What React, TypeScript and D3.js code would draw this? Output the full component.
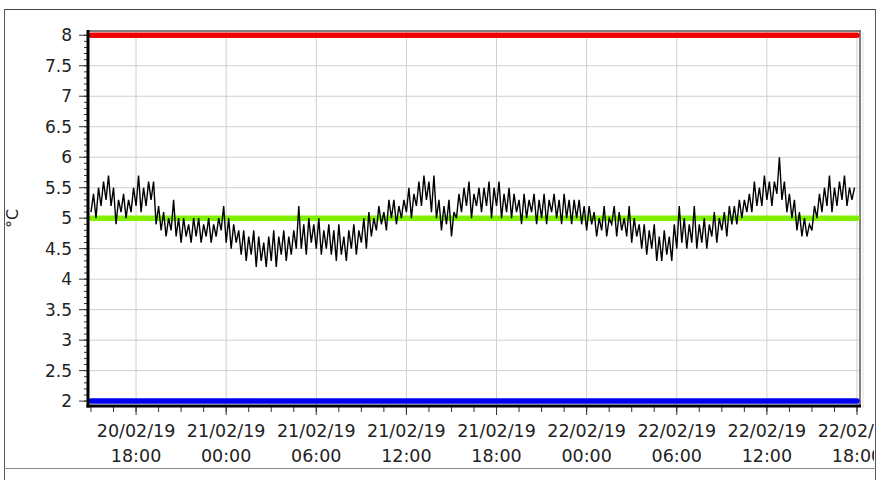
import React from 'react';
import * as d3 from 'd3';

// temperature readings, one every 10 minutes from 20/02/19 15:00 (one row per hour)
const tempValues: number[] = [
  5.1, 5.4, 5.0, 5.5, 5.2, 5.6,
  5.3, 5.7, 5.2, 5.5, 4.9, 5.3,
  5.1, 5.4, 5.0, 5.3, 5.1, 5.5,
  5.2, 5.7, 5.1, 5.5, 5.2, 5.6,
  5.3, 5.6, 4.9, 5.2, 4.8, 5.1,
  4.7, 5.0, 4.8, 5.3, 4.7, 5.0,
  4.6, 5.0, 4.7, 4.9, 4.6, 5.0,
  4.7, 5.0, 4.6, 4.9, 4.7, 5.0,
  4.6, 4.9, 4.7, 5.0, 4.8, 5.2,
  4.6, 5.0, 4.5, 4.9, 4.6, 4.8,
  4.4, 4.8, 4.3, 4.7, 4.4, 4.8,
  4.2, 4.7, 4.3, 4.6, 4.2, 4.7,
  4.3, 4.8, 4.2, 4.7, 4.4, 4.8,
  4.3, 4.7, 4.4, 4.8, 4.5, 5.2,
  4.5, 4.9, 4.4, 5.0, 4.6, 4.9,
  4.5, 5.0, 4.4, 4.8, 4.5, 4.9,
  4.4, 4.8, 4.3, 4.9, 4.4, 4.7,
  4.3, 4.8, 4.5, 4.9, 4.4, 4.8,
  4.6, 5.0, 4.5, 5.1, 4.7, 5.0,
  4.8, 5.2, 4.9, 5.1, 4.8, 5.3,
  5.0, 5.3, 4.9, 5.2, 5.0, 5.3,
  5.1, 5.5, 5.0, 5.4, 5.2, 5.6,
  5.2, 5.7, 5.3, 5.6, 5.1, 5.7,
  5.0, 5.3, 4.8, 5.2, 4.9, 5.3,
  4.7, 5.1, 5.0, 5.4, 5.1, 5.5,
  5.2, 5.6, 5.0, 5.4, 5.2, 5.5,
  5.1, 5.5, 5.2, 5.6, 5.0, 5.5,
  5.2, 5.6, 5.0, 5.4, 5.1, 5.5,
  5.0, 5.4, 5.1, 5.3, 4.9, 5.4,
  5.0, 5.3, 5.1, 5.4, 4.9, 5.3,
  5.0, 5.4, 4.9, 5.3, 5.1, 5.4,
  5.0, 5.3, 4.9, 5.4, 5.0, 5.3,
  4.9, 5.3, 5.0, 5.3, 4.9, 5.2,
  4.8, 5.2, 4.9, 5.1, 4.7, 5.0,
  4.8, 5.2, 4.7, 5.0, 4.9, 5.2,
  4.7, 5.1, 4.8, 5.0, 4.7, 5.2,
  4.6, 5.0, 4.7, 4.9, 4.5, 4.9,
  4.4, 4.8, 4.5, 4.9, 4.3, 4.7,
  4.3, 4.8, 4.4, 4.7, 4.3, 4.9,
  4.5, 5.2, 4.6, 5.0, 4.5, 4.9,
  4.6, 5.2, 4.5, 4.9, 4.6, 5.0,
  4.5, 4.9, 4.7, 5.1, 4.6, 5.0,
  4.8, 5.1, 4.7, 5.2, 4.9, 5.2,
  4.9, 5.3, 5.0, 5.3, 5.1, 5.4,
  5.1, 5.6, 5.2, 5.5, 5.2, 5.7,
  5.3, 5.6, 5.2, 5.6, 5.4, 6.0,
  5.3, 5.6, 5.1, 5.4, 5.0, 5.3,
  4.8, 5.1, 4.7, 5.0, 4.7, 4.9,
  4.8, 5.2, 5.0, 5.4, 5.1, 5.5,
  5.2, 5.7, 5.1, 5.5, 5.2, 5.6,
  5.3, 5.7, 5.2, 5.5, 5.3, 5.5,
];

const firstReading = new Date(2019, 1, 20, 15, 0);
const stepMinutes = 10;

// alarm limits
const upperLimit = 8;
const targetValue = 5;
const lowerLimit = 2;

const timeDomain: [Date, Date] = [new Date(2019, 1, 20, 14, 48), new Date(2019, 1, 22, 18, 12)];
const tempDomain: [number, number] = [1.92, 8.07];
const yLabel = '°C';

const W = 882;
const H = 480;
const FONT = 'DejaVu Sans, Verdana, sans-serif';

export default function App() {
  const left = 88, right = 860, top = 31, bottom = 406;

  const x = d3.scaleTime().domain(timeDomain).range([left, right]);
  const y = d3.scaleLinear().domain(tempDomain).range([bottom, top]);

  const points = tempValues.map((v, i) => ({
    t: d3.timeMinute.offset(firstReading, i * stepMinutes),
    v,
  }));

  const line = d3.line<{ t: Date; v: number }>()
    .x(d => x(d.t))
    .y(d => y(d.v));

  const majorX = d3.timeHour.every(6)!.range(timeDomain[0], timeDomain[1]);
  const minorX = d3.timeMinute
    .every(30)!
    .range(timeDomain[0], timeDomain[1])
    .filter(d => (d.getHours() * 60 + d.getMinutes()) % 90 === 0);
  const majorY = d3.range(4, 17).map(k => k / 2);
  const minorY = d3.range(20, 81).map(k => k / 10);

  const fmtDate = d3.timeFormat('%d/%m/%y');
  const fmtTime = d3.timeFormat('%H:%M');

  const limits = [
    { v: upperLimit, color: '#f00000' },
    { v: targetValue, color: '#80f000' },
    { v: lowerLimit, color: '#0000f0' },
  ];

  return (
    <svg width={W} height={H} style={{ position: 'absolute', left: 0, top: 0, background: '#fff' }}>
      <defs>
        <clipPath id="frame-clip">
          <rect x={5} y={10} width={869} height={458} />
        </clipPath>
      </defs>

      {/* outer frame */}
      <line x1={4.5} x2={875.5} y1={9.5} y2={9.5} stroke="#444" />
      <line x1={4.5} x2={4.5} y1={9} y2={H} stroke="#555" />
      <line x1={875.5} x2={875.5} y1={9} y2={H} stroke="#555" />
      <line x1={4} x2={876} y1={468.5} y2={468.5} stroke="#888" />

      {/* grid */}
      {majorY.map(v => (
        <line key={'gy' + v} x1={left} x2={right} y1={y(v)} y2={y(v)} stroke="#cfcfcf" />
      ))}
      {majorX.map(d => (
        <line key={'gx' + d.getTime()} x1={x(d)} x2={x(d)} y1={top} y2={bottom} stroke="#cfcfcf" />
      ))}

      {/* plot frame top / right */}
      <line x1={left} x2={right + 1} y1={top} y2={top} stroke="#555" strokeWidth={1.5} />
      <line x1={right} x2={right} y1={top} y2={bottom} stroke="#555" strokeWidth={1.5} />
      <line x1={right + 3} x2={right + 3} y1={top + 2} y2={bottom + 2} stroke="#ddd" />

      {/* limit lines */}
      {limits.map(l => (
        <line
          key={'lim' + l.v}
          x1={left + 3}
          x2={right - 3}
          y1={y(l.v)}
          y2={y(l.v)}
          stroke={l.color}
          strokeWidth={5.5}
          strokeLinecap="round"
        />
      ))}

      {/* data */}
      <path d={line(points) ?? ''} fill="none" stroke="#000" strokeWidth={1.4} />

      {/* y axis */}
      {minorY.map(v => (
        <line key={'my' + v} x1={left - 4} x2={left} y1={y(v)} y2={y(v)} stroke="#333" />
      ))}
      {majorY.map(v => (
        <g key={'ty' + v}>
          <line x1={left - 9} x2={left} y1={y(v)} y2={y(v)} stroke="#333" />
          <text x={72} y={y(v)} dy="0.36em" textAnchor="end" fontFamily={FONT} fontSize={17} fill="#222">
            {d3.format('')(v)}
          </text>
        </g>
      ))}
      <line x1={left} x2={left} y1={top - 1} y2={bottom + 1.5} stroke="#000" strokeWidth={3} />

      {/* x axis */}
      {minorX.map(d => (
        <line key={'mx' + d.getTime()} x1={x(d)} x2={x(d)} y1={bottom} y2={bottom + 6} stroke="#333" />
      ))}
      {majorX.map(d => (
        <line key={'tx' + d.getTime()} x1={x(d)} x2={x(d)} y1={bottom} y2={bottom + 9} stroke="#333" />
      ))}
      <line x1={left - 1.5} x2={right + 1} y1={bottom} y2={bottom} stroke="#000" strokeWidth={3} />
      <g clipPath="url(#frame-clip)">
        {majorX.map(d => (
          <text key={'lx' + d.getTime()} textAnchor="middle" fontFamily={FONT} fontSize={17.5} fill="#222">
            <tspan x={x(d)} y={437}>{fmtDate(d)}</tspan>
            <tspan x={x(d)} y={462}>{fmtTime(d)}</tspan>
          </text>
        ))}
      </g>

      {/* y label */}
      <text
        transform={`translate(18, ${(top + bottom) / 2}) rotate(-90)`}
        textAnchor="middle"
        fontFamily={FONT}
        fontSize={16}
        fill="#222"
      >
        {yLabel}
      </text>
    </svg>
  );
}
